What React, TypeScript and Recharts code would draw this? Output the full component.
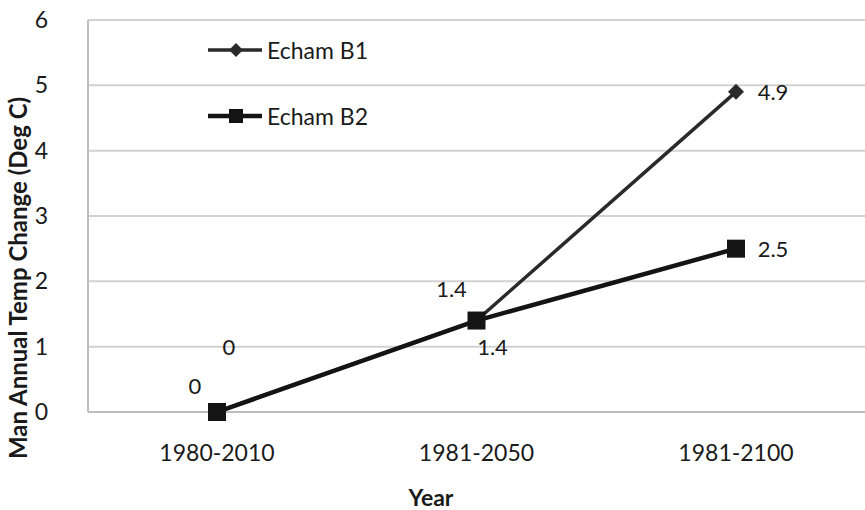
import React from "react";
import {
  LineChart,
  Line,
  XAxis,
  YAxis,
  CartesianGrid,
  Legend,
  LabelList,
} from "recharts";

const periods = ["1980-2010", "1981-2050", "1981-2100"];
const echamB1 = [0, 1.4, 4.9];
const echamB2 = [0, 1.4, 2.5];
const yTicks = [0, 1, 2, 3, 4, 5, 6];

const data = periods.map((p, i) => ({ period: p, b1: echamB1[i], b2: echamB2[i] }));

const FONT = "Lato, 'Open Sans', sans-serif";
const INK = "#1a1a1a";

// per-point label offsets (relative to the marker centre)
const b1Offsets = [
  [12, -66],
  [-25, -32],
  [37, 0],
];
const b2Offsets = [
  [-22, -27],
  [16, 26],
  [37, 0],
];

const makeLabel = (offsets: number[][]) => (props: any) => {
  const { x, y, value, index } = props;
  const [dx, dy] = offsets[index] || [0, 0];
  return (
    <text
      x={x + dx}
      y={y + dy}
      textAnchor="middle"
      dominantBaseline="central"
      fontFamily={FONT}
      fontSize={22}
      fill={INK}
    >
      {value}
    </text>
  );
};

const Diamond = (props: any) => {
  const { cx, cy } = props;
  const r = 8;
  return (
    <polygon
      points={`${cx},${cy - r} ${cx + r},${cy} ${cx},${cy + r} ${cx - r},${cy}`}
      fill="#2a2a2a"
    />
  );
};

const Square = (props: any) => {
  const { cx, cy } = props;
  const s = 18;
  return <rect x={cx - s / 2} y={cy - s / 2} width={s} height={s} fill="#141414" />;
};

const LegendBox = () => (
  <svg width={240} height={100} style={{ display: "block", overflow: "visible" }}>
    <g>
      <line x1={3} y1={12} x2={57} y2={12} stroke="#2a2a2a" strokeWidth={3.5} />
      <polygon points="31,5 38,12 31,19 24,12" fill="#2a2a2a" />
      <text x={62} y={12} dominantBaseline="central" fontFamily={FONT} fontSize={23} fill={INK}>
        Echam B1
      </text>
    </g>
    <g>
      <line x1={3} y1={78} x2={57} y2={78} stroke="#141414" strokeWidth={4.5} />
      <rect x={24} y={71} width={14} height={14} fill="#141414" />
      <text x={62} y={78} dominantBaseline="central" fontFamily={FONT} fontSize={23} fill={INK}>
        Echam B2
      </text>
    </g>
  </svg>
);

const YTitle = () => (
  <text
    x={17}
    y={278}
    transform="rotate(-90, 17, 278)"
    textAnchor="middle"
    dominantBaseline="central"
    fontFamily={FONT}
    fontWeight={700}
    fontSize={24}
    fill={INK}
  >
    Man Annual Temp Change (Deg C)
  </text>
);

const XTitle = () => (
  <text
    x={431}
    y={497}
    textAnchor="middle"
    dominantBaseline="central"
    fontFamily={FONT}
    fontWeight={700}
    fontSize={23}
    fill={INK}
  >
    Year
  </text>
);

export default function App() {
  return (
    <div style={{ position: "absolute", left: 0, top: 0, width: 865, height: 510, background: "#fff" }}>
      <LineChart
        width={865}
        height={510}
        data={data}
        margin={{ top: 20, right: 0, bottom: 0, left: 0 }}
      >
        <CartesianGrid horizontal vertical={false} stroke="#d2d2d2" strokeWidth={2} />
        <XAxis
          dataKey="period"
          height={98}
          padding={{ left: 129, right: 129 }}
          tickLine={false}
          tickSize={0}
          tickMargin={33}
          axisLine={{ stroke: "#bdbdbd", strokeWidth: 2 }}
          tick={{ fontFamily: FONT, fontSize: 23, fill: INK }}
          label={<XTitle />}
        />
        <YAxis
          width={88}
          domain={[0, 6]}
          ticks={yTicks}
          interval={0}
          tickLine={false}
          tickSize={0}
          tickMargin={40}
          axisLine={{ stroke: "#bdbdbd", strokeWidth: 2 }}
          tick={{ fontFamily: FONT, fontSize: 23, fill: INK }}
          label={<YTitle />}
        />
        <Legend
          layout="vertical"
          align="center"
          verticalAlign="middle"
          wrapperStyle={{ top: 38, left: 205, width: 240, height: 100 }}
          content={<LegendBox />}
        />
        <Line
          dataKey="b1"
          stroke="#2a2a2a"
          strokeWidth={3.5}
          dot={<Diamond />}
          activeDot={false}
          isAnimationActive={false}
        >
          <LabelList dataKey="b1" content={makeLabel(b1Offsets)} />
        </Line>
        <Line
          dataKey="b2"
          stroke="#141414"
          strokeWidth={4.5}
          dot={<Square />}
          activeDot={false}
          isAnimationActive={false}
        >
          <LabelList dataKey="b2" content={makeLabel(b2Offsets)} />
        </Line>
      </LineChart>
    </div>
  );
}
